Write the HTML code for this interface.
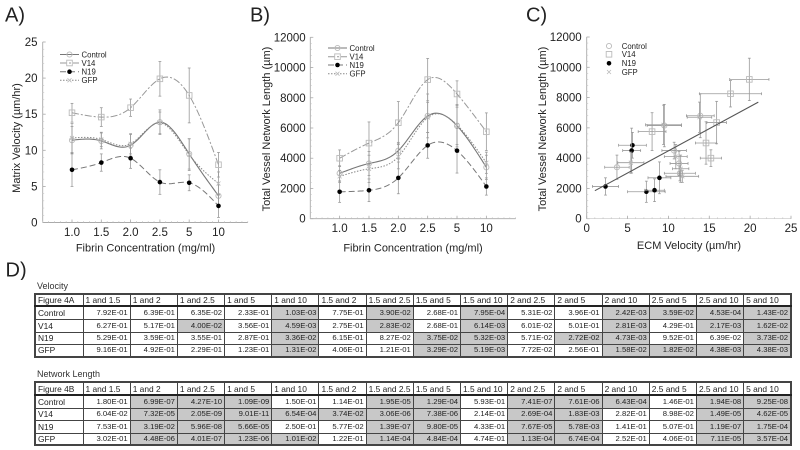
<!DOCTYPE html>
<html lang="en">
<head>
<meta charset="utf-8">
<title>Fibrin concentration charts and statistics tables</title>
<style>
html,body{margin:0;padding:0;background:#fff;}
#page{position:relative;width:800px;height:450px;overflow:hidden;background:#fff;filter:blur(0.35px);font-family:"Liberation Sans",sans-serif;color:#222;}
#charts{position:absolute;left:0;top:0;}
.cap{position:absolute;left:37px;font-size:9px;line-height:10px;color:#333;}
table{position:absolute;left:34px;width:758px;border-collapse:collapse;table-layout:fixed;font-size:7.7px;color:#222;border:2px solid #444;}
td{border:1px solid #444;padding:0 2px;text-align:right;overflow:hidden;white-space:nowrap;line-height:10px;background:#fff;}
td.l{text-align:left;font-size:8.4px;padding:0 1px 0 2px;}
td.s{background:#c8c8c8;}
tr.h td{border-bottom:2px solid #222;}
col.first{width:48px;}
</style>
</head>
<body>
<div id="page">
<svg id="charts" width="800" height="280" viewBox="0 0 800 280" xmlns="http://www.w3.org/2000/svg" font-family="'Liberation Sans',sans-serif"></svg>

<div class="cap" style="top:281px">Velocity</div>
<table style="top:293px">
<colgroup><col class="first"><col span="15"></colgroup>
<tr class="h" style="height:12px"><td class="l">Figure 4A</td><td class="l">1 and 1.5</td><td class="l">1 and 2</td><td class="l">1 and 2.5</td><td class="l">1 and 5</td><td class="l">1 and 10</td><td class="l">1.5 and 2</td><td class="l">1.5 and 2.5</td><td class="l">1.5 and 5</td><td class="l">1.5 and 10</td><td class="l">2 and 2.5</td><td class="l">2 and 5</td><td class="l">2 and 10</td><td class="l">2.5 and 5</td><td class="l">2.5 and 10</td><td class="l">5 and 10</td></tr>
<tr style="height:13px"><td class="l">Control</td><td>7.92E-01</td><td>6.39E-01</td><td>6.35E-02</td><td>2.33E-01</td><td class="s">1.03E-03</td><td>7.75E-01</td><td class="s">3.90E-02</td><td>2.68E-01</td><td class="s">7.95E-04</td><td>5.31E-02</td><td>3.96E-01</td><td class="s">2.42E-03</td><td class="s">3.59E-02</td><td class="s">4.53E-04</td><td class="s">1.43E-02</td></tr>
<tr style="height:13px"><td class="l">V14</td><td>6.27E-01</td><td>5.17E-01</td><td class="s">4.00E-02</td><td>3.56E-01</td><td class="s">4.59E-03</td><td>2.75E-01</td><td class="s">2.83E-02</td><td>2.68E-01</td><td class="s">6.14E-03</td><td>6.01E-02</td><td>5.01E-01</td><td class="s">2.81E-03</td><td>4.29E-01</td><td class="s">2.17E-03</td><td class="s">1.62E-02</td></tr>
<tr style="height:12px"><td class="l">N19</td><td>5.29E-01</td><td>3.59E-01</td><td>3.55E-01</td><td>2.87E-01</td><td class="s">3.36E-02</td><td>6.15E-01</td><td>8.27E-02</td><td class="s">3.75E-02</td><td class="s">5.32E-03</td><td>5.71E-02</td><td class="s">2.72E-02</td><td class="s">4.73E-03</td><td>9.52E-01</td><td>6.39E-02</td><td class="s">3.73E-02</td></tr>
<tr style="height:13px"><td class="l">GFP</td><td>9.16E-01</td><td>4.92E-01</td><td>2.29E-01</td><td>1.23E-01</td><td class="s">1.31E-02</td><td>4.06E-01</td><td>1.21E-01</td><td class="s">3.29E-02</td><td class="s">5.19E-03</td><td>7.72E-02</td><td>2.56E-01</td><td class="s">1.58E-02</td><td class="s">1.82E-02</td><td class="s">4.38E-03</td><td class="s">4.38E-03</td></tr>
</table>

<div class="cap" style="top:369px">Network Length</div>
<table style="top:381px">
<colgroup><col class="first"><col span="15"></colgroup>
<tr class="h" style="height:13px"><td class="l">Figure 4B</td><td class="l">1 and 1.5</td><td class="l">1 and 2</td><td class="l">1 and 2.5</td><td class="l">1 and 5</td><td class="l">1 and 10</td><td class="l">1.5 and 2</td><td class="l">1.5 and 2.5</td><td class="l">1.5 and 5</td><td class="l">1.5 and 10</td><td class="l">2 and 2.5</td><td class="l">2 and 5</td><td class="l">2 and 10</td><td class="l">2.5 and 5</td><td class="l">2.5 and 10</td><td class="l">5 and 10</td></tr>
<tr style="height:13px"><td class="l">Control</td><td>1.80E-01</td><td class="s">6.99E-07</td><td class="s">4.27E-10</td><td class="s">1.09E-09</td><td>1.50E-01</td><td>1.14E-01</td><td class="s">1.95E-05</td><td class="s">1.29E-04</td><td>5.93E-01</td><td class="s">7.41E-07</td><td class="s">7.61E-06</td><td class="s">6.43E-04</td><td>1.46E-01</td><td class="s">1.94E-08</td><td class="s">9.25E-08</td></tr>
<tr style="height:12px"><td class="l">V14</td><td>6.04E-02</td><td class="s">7.32E-05</td><td class="s">2.05E-09</td><td class="s">9.01E-11</td><td class="s">6.54E-04</td><td class="s">3.74E-02</td><td class="s">3.06E-06</td><td class="s">7.38E-06</td><td>2.14E-01</td><td class="s">2.69E-04</td><td class="s">1.83E-03</td><td>2.82E-01</td><td>8.98E-02</td><td class="s">1.49E-05</td><td class="s">4.62E-05</td></tr>
<tr style="height:13px"><td class="l">N19</td><td>7.53E-01</td><td class="s">3.19E-02</td><td class="s">5.96E-08</td><td class="s">5.66E-05</td><td>2.50E-01</td><td>5.77E-02</td><td class="s">1.39E-07</td><td class="s">9.80E-05</td><td>4.33E-01</td><td class="s">7.67E-05</td><td class="s">5.78E-03</td><td>1.41E-01</td><td>5.07E-01</td><td class="s">1.19E-07</td><td class="s">1.75E-04</td></tr>
<tr style="height:12px"><td class="l">GFP</td><td>3.02E-01</td><td class="s">4.48E-06</td><td class="s">4.01E-07</td><td class="s">1.23E-06</td><td class="s">1.01E-02</td><td>1.22E-01</td><td class="s">1.14E-04</td><td class="s">4.84E-04</td><td>4.74E-01</td><td class="s">1.13E-04</td><td class="s">6.74E-04</td><td>2.52E-01</td><td>4.06E-01</td><td class="s">7.11E-05</td><td class="s">3.57E-04</td></tr>
</table>
</div>

<script>
// Data
const categories = ['1.0', '1.5', '2.0', '2.5', '5', '10'];
const seriesNames = ['Control', 'V14', 'N19', 'GFP'];

const velocityControl = [11.4, 11.3, 10.7, 13.9, 9.5, 3.7];
const velocityV14 = [15.2, 14.6, 15.9, 19.9, 17.6, 8.0];
const velocityN19 = [7.3, 8.3, 8.9, 5.6, 5.5, 2.3];
const velocityGFP = [11.7, 11.5, 10.9, 13.8, 9.4, 5.4];

const velocityErrControl = [1.9, 1.1, 1.5, 1.7, 2.1, 1.5];
const velocityErrV14 = [1.3, 1.3, 1.2, 2.4, 3.8, 1.7];
const velocityErrN19 = [2.3, 1.2, 1.4, 1.7, 1.1, 1.6];
const velocityErrGFP = [2.0, 1.0, 1.4, 1.5, 2.2, 1.6];

const lengthControl = [3000, 3650, 4500, 6800, 6150, 3400];
const lengthV14 = [4000, 5000, 6350, 9200, 8250, 5750];
const lengthN19 = [1780, 1880, 2700, 4850, 4500, 2130];
const lengthGFP = [2800, 3300, 4100, 6700, 6200, 3700];

const lengthErrControl = [500, 800, 550, 1450, 1400, 800];
const lengthErrV14 = [550, 1400, 1400, 1400, 870, 1250];
const lengthErrN19 = [700, 750, 1050, 850, 1480, 570];
const lengthErrGFP = [400, 900, 800, 1000, 1300, 700];

const velocityTicks = [0, 5, 10, 15, 20, 25];
const lengthTicks = [0, 2000, 4000, 6000, 8000, 10000, 12000];
const ecmTicks = [0, 5, 10, 15, 20, 25];

const fitX = [1, 21];
const fitY = [1850, 7700];

const velocityByGroup = [velocityControl, velocityV14, velocityN19, velocityGFP];
const velocityErrByGroup = [velocityErrControl, velocityErrV14, velocityErrN19, velocityErrGFP];
const lengthByGroup = [lengthControl, lengthV14, lengthN19, lengthGFP];
const lengthErrByGroup = [lengthErrControl, lengthErrV14, lengthErrN19, lengthErrGFP];

const svg = document.getElementById('charts');
const NS = 'http://www.w3.org/2000/svg';
const lineStyles = [
  {stroke: '#777', dash: '', width: 1.1},
  {stroke: '#999', dash: '7 2 2 2', width: 1},
  {stroke: '#777', dash: '6 3', width: 1},
  {stroke: '#888', dash: '1.5 1.5', width: 1}
];

function scale(d0, d1, r0, r1) {
  return function (v) { return r0 + (v - d0) * (r1 - r0) / (d1 - d0); };
}

function make(tag, parent, name, attrs) {
  const el = document.createElementNS(NS, tag);
  for (const k in attrs) el.setAttribute(k, attrs[k]);
  
  
  parent.appendChild(el);
  return el;
}

function label(parent, name, str, x, y, size, anchor, rotate) {
  const attrs = {x: x, y: y, 'font-size': size, 'text-anchor': anchor || 'start', fill: '#222'};
  if (rotate) attrs.transform = 'rotate(-90 ' + x + ' ' + y + ')';
  const t = make('text', parent, name, attrs);
  t.textContent = str;
  return t;
}

function seg(parent, name, x1, y1, x2, y2, stroke, width, dash) {
  const attrs = {x1: x1, y1: y1, x2: x2, y2: y2, stroke: stroke, 'stroke-width': width};
  if (dash) attrs['stroke-dasharray'] = dash;
  return make('line', parent, name, attrs);
}

// Natural cubic spline through equally spaced points
function spline(values) {
  const n = values.length;
  const m = new Array(n).fill(0), c = new Array(n).fill(0), d = new Array(n).fill(0);
  for (let i = 1; i < n - 1; i++) {
    const p = 4 - c[i - 1];
    c[i] = 1 / p;
    d[i] = (6 * (values[i + 1] - 2 * values[i] + values[i - 1]) - d[i - 1]) / p;
  }
  for (let i = n - 2; i > 0; i--) m[i] = d[i] - c[i] * m[i + 1];
  return function (t) {
    const i = Math.min(Math.floor(t), n - 2), u = t - i, w = 1 - u;
    return w * values[i] + u * values[i + 1] + ((w * w * w - w) * m[i] + (u * u * u - u) * m[i + 1]) / 6;
  };
}

function marker(parent, group, cx, cy) {
  const name = 'marker-' + seriesNames[group].toLowerCase();
  if (group === 0) make('circle', parent, name, {cx: cx, cy: cy, r: 2.6, fill: 'none', stroke: '#bbb', 'stroke-width': 0.9});
  if (group === 1) make('rect', parent, name, {x: cx - 2.8, y: cy - 2.8, width: 5.6, height: 5.6, fill: 'none', stroke: '#bbb', 'stroke-width': 0.9});
  if (group === 2) make('circle', parent, name, {cx: cx, cy: cy, r: 2.3, fill: '#000', stroke: 'none'});
  if (group === 3) {
    make('path', parent, name, {d: 'M' + (cx - 2) + ' ' + (cy - 2) + 'L' + (cx + 2) + ' ' + (cy + 2) + 'M' + (cx - 2) + ' ' + (cy + 2) + 'L' + (cx + 2) + ' ' + (cy - 2), fill: 'none', stroke: '#bbb', 'stroke-width': 0.8});
  }
}

function errorBar(parent, name, x0, y0, x1, y1, horizontal) {
  const col = '#999';
  seg(parent, name, x0, y0, x1, y1, col, 0.8);
  const dx = horizontal ? 0 : 1.4, dy = horizontal ? 1.4 : 0;
  seg(parent, name + '-cap', x0 - dx, y0 - dy, x0 + dx, y0 + dy, col, 0.8);
  seg(parent, name + '-cap', x1 - dx, y1 - dy, x1 + dx, y1 + dy, col, 0.8);
}

function drawAxes(parent, x0, x1, yBottom, yTop, xMinor, yMinor, xMajorPositions, yMajorPositions) {
  const col = '#aaa';
  seg(parent, 'y-axis', x0, yBottom, x0, yTop, col, 0.9);
  seg(parent, 'x-axis', x0, yBottom, x1, yBottom, col, 0.9);
  for (const x of xMinor) seg(parent, 'x-minor-tick', x, yBottom, x, yBottom - 1.5, '#c4c4c4', 0.6);
  for (const y of yMinor) seg(parent, 'y-minor-tick', x0, y, x0 + 1.5, y, '#c4c4c4', 0.6);
  for (const x of xMajorPositions) seg(parent, 'x-major-tick', x, yBottom, x, yBottom - 3, col, 0.8);
  for (const y of yMajorPositions) seg(parent, 'y-major-tick', x0, y, x0 + 3, y, col, 0.8);
}

function linePanel(cfg) {
  const g = make('g', svg, cfg.name, {});
  const xs = scale(-1, 6, cfg.x0, cfg.x1);
  const ys = scale(0, cfg.yMax, cfg.yBottom, cfg.yTop);
  const xMinor = [], yMinor = [];
  for (let v = -1; v <= 6.001; v += 0.2) xMinor.push(xs(v));
  const step = cfg.ticks[1] / 5;
  for (let v = 0; v <= cfg.yMax + 0.001; v += step) yMinor.push(ys(v));
  drawAxes(g, cfg.x0, cfg.x1, cfg.yBottom, cfg.yTop, xMinor, yMinor, categories.map(function (c, i) { return xs(i); }), cfg.ticks.map(ys));
  cfg.ticks.forEach(function (t) {
    label(g, 'y-tick-label', String(t), cfg.yLabelX, ys(t) + 4, 11.5, 'end');
  });
  categories.forEach(function (c, i) {
    label(g, 'x-tick-label', c, xs(i), cfg.xLabelY, 11.5, 'middle');
  });
  label(g, 'x-axis-title', 'Fibrin Concentration (mg/ml)', cfg.xTitleX, cfg.xTitleY, 11, 'middle');
  label(g, 'y-axis-title', cfg.yTitle, cfg.yTitleX, cfg.yTitleY, 11, 'middle', true);

  cfg.data.forEach(function (values, group) {
    const key = seriesNames[group].toLowerCase();
    const f = spline(values);
    let d = '';
    for (let t = 0; t <= values.length - 1 + 1e-6; t += 0.05) {
      d += (d ? 'L' : 'M') + xs(t).toFixed(2) + ' ' + ys(f(Math.min(t, values.length - 1))).toFixed(2);
    }
    const style = lineStyles[group];
    const attrs = {d: d, fill: 'none', stroke: style.stroke, 'stroke-width': style.width};
    if (style.dash) attrs['stroke-dasharray'] = style.dash;
    make('path', g, 'line-' + key, attrs);
    values.forEach(function (v, i) {
      const e = cfg.errs[group][i];
      errorBar(g, 'error-bar-' + key, xs(i), ys(v - e), xs(i), ys(v + e), false);
      marker(g, group, xs(i), ys(v));
    });
  });

  seriesNames.forEach(function (s, group) {
    const y = cfg.legendY[group];
    const style = lineStyles[group];
    seg(g, 'legend-line-' + s.toLowerCase(), cfg.legendX, y, cfg.legendX + 19, y, style.stroke, style.width, style.dash);
    marker(g, group, cfg.legendX + 9.5, y);
    label(g, 'legend-label-' + s.toLowerCase(), s, cfg.legendX + 21.5, y + 2.8, 7.8);
  });
}

linePanel({
  name: 'chart-a-matrix-velocity', x0: 42.7, x1: 247.8, yBottom: 222.5, yTop: 42, yMax: 25,
  ticks: velocityTicks, data: velocityByGroup, errs: velocityErrByGroup,
  yLabelX: 37.5, xLabelY: 236, xTitleX: 145.5, xTitleY: 251.5,
  yTitle: 'Matrix Velocity (\u00b5m/hr)', yTitleX: 20, yTitleY: 138,
  legendX: 60, legendY: [54.5, 63, 71.7, 80.3]
});

linePanel({
  name: 'chart-b-network-length', x0: 310.3, x1: 515.7, yBottom: 218.7, yTop: 37.3, yMax: 12000,
  ticks: lengthTicks, data: lengthByGroup, errs: lengthErrByGroup,
  yLabelX: 305.7, xLabelY: 232, xTitleX: 413, xTitleY: 251.5,
  yTitle: 'Total Vessel Network Length (\u00b5m)', yTitleX: 270, yTitleY: 129,
  legendX: 328, legendY: [48, 56.7, 65, 73.7]
});

(function () {
  const g = make('g', svg, 'chart-c-scatter', {});
  const x0 = 586.7, x1 = 791, yBottom = 218.7, yTop = 37;
  const xs = scale(0, 25, x0, x1);
  const ys = scale(0, 12000, yBottom, yTop);
  const xMinor = [], yMinor = [];
  for (let v = 0; v <= 25.001; v += 1) xMinor.push(xs(v));
  for (let v = 0; v <= 12000.1; v += 400) yMinor.push(ys(v));
  seg(g, 'y-axis', x0, yBottom, x0, yTop, '#aaa', 0.9);
  for (const y of yMinor) seg(g, 'y-minor-tick', x0, y, x0 + 1.5, y, '#c4c4c4', 0.6);
  for (const t of lengthTicks) seg(g, 'y-major-tick', x0, ys(t), x0 + 3, ys(t), '#aaa', 0.8);
  seg(g, 'x-axis', x0, yBottom, x1, yBottom, '#c4c4c4', 0.6);
  for (const x of xMinor) seg(g, 'x-minor-tick', x, yBottom, x, yBottom - 1.5, '#c4c4c4', 0.6);
  for (const t of ecmTicks) seg(g, 'x-major-tick', xs(t), yBottom, xs(t), yBottom - 3, '#aaa', 0.8);
  lengthTicks.forEach(function (t) {
    label(g, 'y-tick-label', String(t), 581.7, ys(t) + 4, 11.5, 'end');
  });
  ecmTicks.forEach(function (t) {
    label(g, 'x-tick-label', String(t), xs(t), 232, 11.5, 'middle');
  });
  label(g, 'x-axis-title', 'ECM Velocity (\u00b5m/hr)', 689, 249, 11, 'middle');
  label(g, 'y-axis-title', 'Total Vessel Network Length (\u00b5m)', 546, 129, 11, 'middle', true);

  velocityByGroup.forEach(function (vals, group) {
    const key = seriesNames[group].toLowerCase();
    vals.forEach(function (vx, i) {
      const vy = lengthByGroup[group][i];
      const ex = velocityErrByGroup[group][i];
      const ey = lengthErrByGroup[group][i];
      errorBar(g, 'x-error-bar-' + key, xs(vx - ex), ys(vy), xs(vx + ex), ys(vy), true);
      errorBar(g, 'y-error-bar-' + key, xs(vx), ys(vy - ey), xs(vx), ys(vy + ey), false);
      marker(g, group, xs(vx), ys(vy));
    });
  });

  seg(g, 'regression-line', xs(fitX[0]), ys(fitY[0]), xs(fitX[1]), ys(fitY[1]), '#555', 1.1);

  const legendRows = [46, 54.3, 63.3, 72];
  seriesNames.forEach(function (s, group) {
    marker(g, group, 609, legendRows[group]);
    label(g, 'legend-label-' + s.toLowerCase(), s, 621.7, legendRows[group] + 2.8, 7.8);
  });
})();

label(svg, 'panel-label-a', 'A)', 5, 21.5, 20);
label(svg, 'panel-label-b', 'B)', 250, 21.5, 20);
label(svg, 'panel-label-c', 'C)', 526, 21.5, 20);
label(svg, 'panel-label-d', 'D)', 5.5, 276.5, 20);
</script>
</body>
</html>
